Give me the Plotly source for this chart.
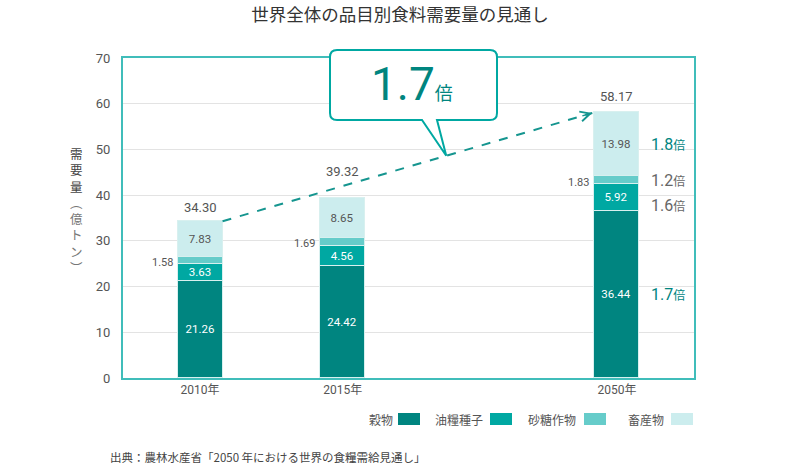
import plotly.graph_objects as go

# ---- data ----
categories = ["2010年", "2015年", "2050年"]
series_names = ["穀物", "油糧種子", "砂糖作物", "畜産物"]
cereal = [21.26, 24.42, 36.44]
oilseed = [3.63, 4.56, 5.92]
sugar = [1.58, 1.69, 1.83]
livestock = [7.83, 8.65, 13.98]
totals = [34.30, 39.32, 58.17]
ratios_2050 = ["1.7", "1.6", "1.2", "1.8"]   # per series, 2010->2050
overall_ratio = "1.7"
y_ticks = [0, 10, 20, 30, 40, 50, 60, 70]

# ---- style / layout ----
colors = ["#008580", "#00A8A2", "#66CCCA", "#CCEDEE"]
text_colors = ["#FFFFFF", "#FFFFFF", "#555555", "#555555"]
ratio_colors = ["#00857F", "#666666", "#666666", "#00857F"]
teal = "#00857F"
frame = "#40BDBA"
gray = "#555555"
FONT = "Roboto, 'Noto Sans CJK JP', sans-serif"
JFONT = "'Noto Sans CJK JP', sans-serif"

x_pos = [1, 2, 3.92]
bar_w = 0.315
x_range = [0.46, 4.46]
y_range = [0, 70]
W, H = 800, 464
ml, mr, mt, mb = 123, 106, 58, 86
pw, ph = W - ml - mr, H - mt - mb
total_shift = [4, 17, 6]


def to_paper(x, y):
    px = (x - x_range[0]) / (x_range[1] - x_range[0])
    py = (y - y_range[0]) / (y_range[1] - y_range[0])
    return px, py


def pix(px, py):
    # pixel (from top-left of page) -> paper coordinates
    return (px - ml) / pw, (H - mb - py) / ph


fig = go.Figure()
values = [cereal, oilseed, sugar, livestock]
for i, (name, vals) in enumerate(zip(series_names, values)):
    show_text = i != 2
    fig.add_trace(go.Bar(
        x=x_pos, y=vals, width=bar_w, name=name,
        marker=dict(color=colors[i], line=dict(color="#D8F0EF", width=1)),
        text=[f"{v:.2f}" for v in vals] if show_text else None,
        textposition="inside" if show_text else "none",
        insidetextanchor="middle",
        textangle=0,
        textfont=dict(color=text_colors[i], size=11.5, family=FONT),
        showlegend=False, hoverinfo="skip",
    ))

annotations = []
shapes = []

# totals above bars
for x, t, s in zip(x_pos, totals, total_shift):
    annotations.append(dict(x=x, y=t, xref="x", yref="y", text=f"{t:.2f}",
                            showarrow=False, yanchor="bottom", yshift=s,
                            font=dict(size=13, color=gray, family=FONT)))

# sugar labels to the left of the bars
base_sugar = [c + o for c, o in zip(cereal, oilseed)]
for x, b, s in zip(x_pos, base_sugar, sugar):
    annotations.append(dict(x=x - bar_w / 2, y=b + s / 2, xref="x", yref="y",
                            text=f"{s:.2f}", showarrow=False, xanchor="right",
                            yanchor="middle", xshift=-3, yshift=-2,
                            font=dict(size=11, color=gray, family=FONT)))

# ratio labels next to 2050 bar
cum = 0
ratio_shift = [0, -8, 0, 0]
for i, vals in enumerate(values):
    v = vals[2]
    mid = cum + v / 2
    cum += v
    annotations.append(dict(x=x_pos[2] + bar_w / 2, y=mid, xref="x", yref="y",
                            text=f"{ratios_2050[i]}<span style='font-size:12px'>倍</span>",
                            showarrow=False, xanchor="left", yanchor="middle",
                            xshift=10, yshift=ratio_shift[i],
                            font=dict(size=16, color=ratio_colors[i], family=FONT)))

# dashed growth arrow
x0, y0 = x_pos[0] + bar_w / 2, totals[0]
x1, y1 = x_pos[2] - bar_w / 2 - 0.015, totals[2] - 0.2
fig.add_trace(go.Scatter(x=[x0, x1], y=[y0, y1], mode="lines",
                         line=dict(color="#15958F", width=2, dash="dash"),
                         showlegend=False, hoverinfo="skip"))
slope = (y1 - y0) / (x1 - x0)
annotations.append(dict(x=x1, y=y1, ax=x1 - 0.08, ay=y1 - 0.08 * slope,
                        xref="x", yref="y", axref="x", ayref="y", text="",
                        showarrow=True, arrowhead=5, arrowsize=1.3, arrowwidth=1.5,
                        arrowcolor="#15958F"))

# callout box with tail pointing at the arrow line
tf = 0.605
tip = to_paper(x0 + tf * (x1 - x0), y0 + tf * (y1 - y0))
bx0, by0 = pix(330, 50)
bx1, by1 = pix(497, 120)
tl, _ = pix(422, 120)
tr, _ = pix(437, 120)
rx, ry = 7 / pw, 7 / ph
path = (f"M {bx0+rx},{by0} L {bx1-rx},{by0} Q {bx1},{by0} {bx1},{by0-ry} "
        f"L {bx1},{by1+ry} Q {bx1},{by1} {bx1-rx},{by1} L {tr},{by1} "
        f"L {tip[0]},{tip[1]} L {tl},{by1} L {bx0+rx},{by1} "
        f"Q {bx0},{by1} {bx0},{by1+ry} L {bx0},{by0-ry} Q {bx0},{by0} {bx0+rx},{by0} Z")
shapes.append(dict(type="path", path=path, xref="paper", yref="paper",
                   fillcolor="white", line=dict(color="#00A8A2", width=2)))
cx, cy = pix(412, 84)
annotations.append(dict(x=cx, y=cy, xref="paper", yref="paper",
                        xanchor="center", yanchor="middle",
                        text=f"{overall_ratio}<span style='font-size:18px'>倍</span>",
                        showarrow=False, font=dict(size=46, color=teal, family=FONT)))

# y-axis title (vertical text)
yt = "<br>".join(list("需要量"))
yt2 = "<br>".join(list("︵億トン︶"))
ax_, ay_ = pix(76, 210)
annotations.append(dict(x=ax_, y=ay_, xref="paper", yref="paper",
                        xanchor="center", yanchor="middle",
                        text=f"{yt}<br><span style='color:#777777'>{yt2}</span>",
                        showarrow=False, align="center",
                        font=dict(size=12.5, color="#444444", family=JFONT)))

# custom legend (label, then swatch)
leg_text_right = [395, 485, 578, 666]
leg_box_left = [398, 490, 584, 671]
for i, name in enumerate(series_names):
    tx, ty = pix(leg_text_right[i], 419)
    annotations.append(dict(x=tx, y=ty, xref="paper", yref="paper", text=name,
                            showarrow=False, xanchor="right", yanchor="middle",
                            font=dict(size=12, color=gray, family=JFONT)))
    sx0, sy0 = pix(leg_box_left[i], 413)
    sx1, sy1 = pix(leg_box_left[i] + 22, 425)
    shapes.append(dict(type="rect", xref="paper", yref="paper",
                       x0=sx0, x1=sx1, y0=sy0, y1=sy1,
                       fillcolor=colors[i], line=dict(width=0)))

# source
sx, sy = pix(108, 457)
annotations.append(dict(x=sx, y=sy, xref="paper", yref="paper",
                        xanchor="left", yanchor="middle",
                        text="出典：農林水産省「2050 年における世界の食糧需給見通し」",
                        showarrow=False, font=dict(size=11.5, color="#444444", family=JFONT)))

fig.update_layout(
    width=W, height=H, barmode="stack", bargap=0,
    margin=dict(l=ml, r=mr, t=mt, b=mb),
    paper_bgcolor="white", plot_bgcolor="white",
    title=dict(text="世界全体の品目別食料需要量の見通し", x=0.5, xanchor="center",
               y=1 - 15 / H, yanchor="middle", yref="container",
               font=dict(size=17.5, color="#333333", family=JFONT)),
    xaxis=dict(range=x_range, tickvals=x_pos, ticktext=categories,
               showgrid=False, showline=True, linecolor=frame, linewidth=2,
               mirror=True, ticks="", zeroline=False,
               tickfont=dict(size=12, color=gray, family=FONT)),
    yaxis=dict(range=y_range, tickvals=y_ticks, showgrid=True,
               gridcolor="#E3E3E3", gridwidth=1, showline=True, linecolor=frame,
               linewidth=2, mirror=True, ticks="", zeroline=False,
               ticklabelstandoff=8,
               tickfont=dict(size=13, color=gray, family=FONT)),
    uniformtext=dict(minsize=11, mode="show"),
    annotations=annotations, shapes=shapes,
)

fig.write_html("out.html")
